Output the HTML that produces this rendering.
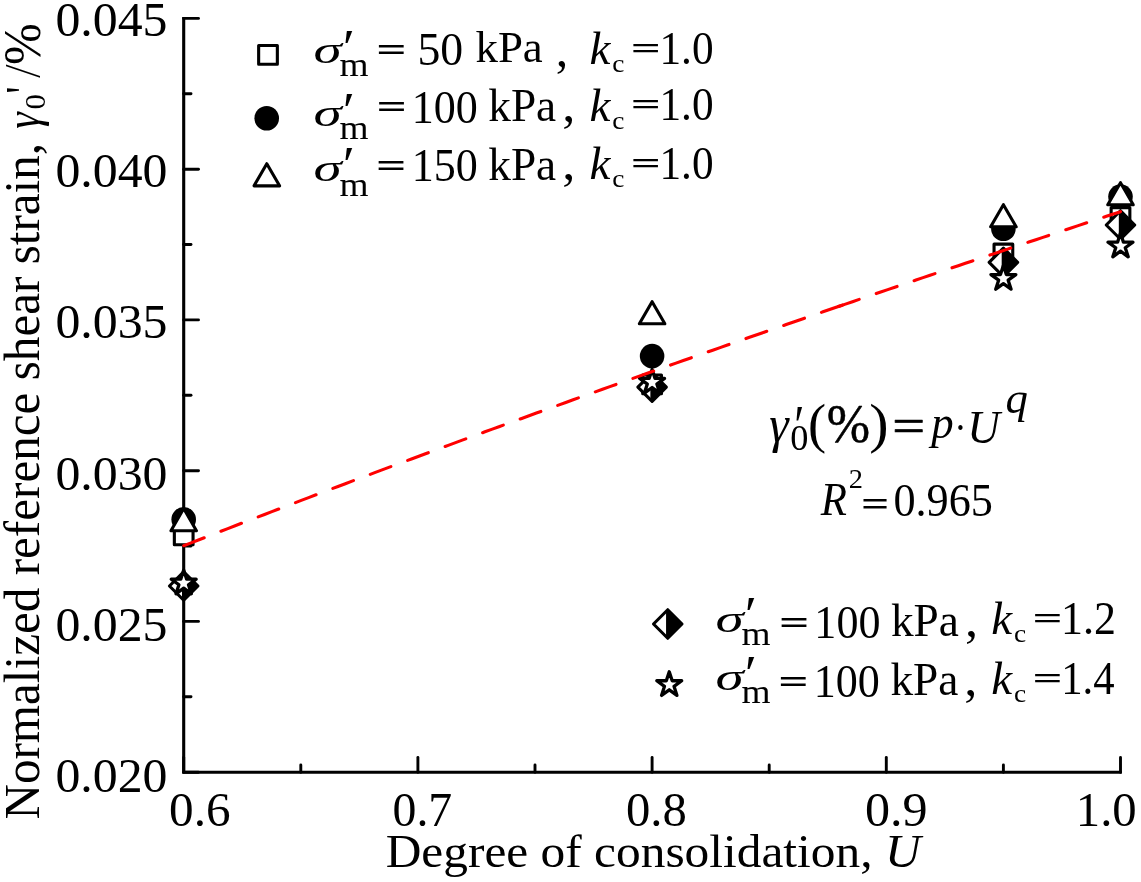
<!DOCTYPE html>
<html lang="en"><head><meta charset="utf-8"><title>Normalized reference shear strain vs degree of consolidation</title>
<style>
html,body{margin:0;padding:0;background:#fff;}
body{width:1141px;height:882px;overflow:hidden;}
svg{display:block;will-change:transform;}
text{font-family:"Liberation Serif",serif;fill:#000;}
.i{font-style:italic;}
.b{font-weight:bold;}
.ax{stroke:#000;stroke-width:3.1;fill:none;stroke-linecap:butt;}
.tk{stroke:#000;stroke-width:2.9;fill:none;stroke-linecap:round;}
.mk{stroke:#000;stroke-width:3.1;stroke-linejoin:round;}
</style></head><body>
<svg width="1141" height="882" viewBox="0 0 1141 882">
<rect x="0" y="0" width="1141" height="882" fill="#fff"/>
<g id="axes">
<path class="ax" d="M183.7 17 V772.2 H1121.8"/>
<path class="tk" d="M183.7 18.4 H198.5"/>
<path class="tk" d="M183.7 169.2 H198.5"/>
<path class="tk" d="M183.7 319.9 H198.5"/>
<path class="tk" d="M183.7 470.7 H198.5"/>
<path class="tk" d="M183.7 621.4 H198.5"/>
<path class="tk" d="M183.7 772.2 H198.5"/>
<path class="tk" d="M183.7 93.8 H191.0"/>
<path class="tk" d="M183.7 244.5 H191.0"/>
<path class="tk" d="M183.7 395.3 H191.0"/>
<path class="tk" d="M183.7 546.1 H191.0"/>
<path class="tk" d="M183.7 696.8 H191.0"/>
<path class="tk" d="M183.7 772.2 V757.5"/>
<path class="tk" d="M417.9 772.2 V757.5"/>
<path class="tk" d="M652.1 772.2 V757.5"/>
<path class="tk" d="M886.3 772.2 V757.5"/>
<path class="tk" d="M1120.5 772.2 V757.5"/>
<path class="tk" d="M300.8 772.2 V765.0"/>
<path class="tk" d="M535.0 772.2 V765.0"/>
<path class="tk" d="M769.2 772.2 V765.0"/>
<path class="tk" d="M1003.4 772.2 V765.0"/>
</g>
<g id="yticklabels">
<text transform="translate(55.44 36.04) scale(1.0257 1)" font-size="48.58">0.045</text>
<text transform="translate(55.44 187.24) scale(1.0257 1)" font-size="48.58">0.040</text>
<text transform="translate(55.44 338.44) scale(1.0257 1)" font-size="48.58">0.035</text>
<text transform="translate(55.44 489.64) scale(1.0257 1)" font-size="48.58">0.030</text>
<text transform="translate(55.44 640.84) scale(1.0257 1)" font-size="48.58">0.025</text>
<text transform="translate(55.44 792.04) scale(1.0257 1)" font-size="48.58">0.020</text>
</g>
<g id="xticklabels">
<text transform="translate(169.06 825.75) scale(1.0314 1.0000)" font-size="47.71">0.6</text>
<text transform="translate(392.51 825.75) scale(1.0017 1.0000)" font-size="47.71">0.7</text>
<text transform="translate(625.98 825.75) scale(1.0202 1.0000)" font-size="47.71">0.8</text>
<text transform="translate(864.93 825.75) scale(1.0502 1.0000)" font-size="47.71">0.9</text>
<text transform="translate(1075.79 825.75) scale(1.0217 1.0000)" font-size="47.71">1.0</text>
</g>
<g id="titles">
<text transform="translate(385.70 867.10) scale(1.0510 1.0000)" font-size="47.00" text-anchor="start">Degree of consolidation, <tspan class="i">U</tspan></text>
<text transform="translate(39.3 819.6) rotate(-90) scale(1 1.015)" font-size="49.15">Normalized reference shear strain,</text>
<g transform="rotate(-90)">
<text class="i" transform="translate(-128.65 38.74) scale(0.8665 1.0000)" font-size="48.29">γ</text>
<text transform="translate(-109.47 45.44) scale(1.0476 1.0000)" font-size="29.67">0</text>
<text transform="translate(-93.50 39.50) scale(0.7500 1.0000)" font-size="51.20">'</text>
<text class="i" transform="translate(-76.33 38.60) scale(0.6538 1.0000)" font-size="51.20">/</text>
<text transform="translate(-64.96 39.99) scale(0.9638 1.0000)" font-size="51.93">%</text>
</g>
</g>
<g id="data">
<rect class="mk" x="174.35" y="526.05" width="18.70" height="18.70" fill="#fff"/>
<rect class="mk" x="642.75" y="374.95" width="18.70" height="18.70" fill="#fff"/>
<rect class="mk" x="994.05" y="244.15" width="18.70" height="18.70" fill="#fff"/>
<rect class="mk" x="1111.15" y="207.65" width="18.70" height="18.70" fill="#fff"/>
<circle cx="183.70" cy="519.40" r="12.30" fill="#000"/>
<circle cx="652.10" cy="356.10" r="12.30" fill="#000"/>
<circle cx="1003.40" cy="228.80" r="12.30" fill="#000"/>
<circle cx="1120.50" cy="196.60" r="12.30" fill="#000"/>
<path class="mk" d="M183.70 508.60 L196.45 530.70 L170.95 530.70 Z" fill="#fff"/>
<path class="mk" d="M652.10 301.70 L664.85 323.80 L639.35 323.80 Z" fill="#fff"/>
<path class="mk" d="M1003.40 204.70 L1016.15 226.80 L990.65 226.80 Z" fill="#fff"/>
<path class="mk" d="M1120.50 182.70 L1133.25 204.80 L1107.75 204.80 Z" fill="#fff"/>
<path class="mk" d="M183.70 571.75 L197.95 586.00 L183.70 600.25 L169.45 586.00 Z" fill="#fff"/>
<path d="M182.00 573.45 L183.70 571.75 L197.95 586.00 L183.70 600.25 L182.00 598.55 Z" fill="#000"/>
<path class="mk" d="M652.10 372.85 L666.35 387.10 L652.10 401.35 L637.85 387.10 Z" fill="#fff"/>
<path d="M650.40 374.55 L652.10 372.85 L666.35 387.10 L652.10 401.35 L650.40 399.65 Z" fill="#000"/>
<path class="mk" d="M1003.40 248.05 L1017.65 262.30 L1003.40 276.55 L989.15 262.30 Z" fill="#fff"/>
<path d="M1001.70 249.75 L1003.40 248.05 L1017.65 262.30 L1003.40 276.55 L1001.70 274.85 Z" fill="#000"/>
<path class="mk" d="M1120.50 210.75 L1134.75 225.00 L1120.50 239.25 L1106.25 225.00 Z" fill="#fff"/>
<path d="M1118.80 212.45 L1120.50 210.75 L1134.75 225.00 L1120.50 239.25 L1118.80 237.55 Z" fill="#000"/>
<path class="mk" style="stroke-width:3.3" d="M183.70 570.10 L186.64 579.15 L196.16 579.15 L188.46 584.75 L191.40 593.80 L183.70 588.20 L176.00 593.80 L178.94 584.75 L171.24 579.15 L180.76 579.15 Z" fill="#fff"/>
<path class="mk" style="stroke-width:3.3" d="M652.10 369.40 L655.04 378.45 L664.56 378.45 L656.86 384.05 L659.80 393.10 L652.10 387.50 L644.40 393.10 L647.34 384.05 L639.64 378.45 L649.16 378.45 Z" fill="#fff"/>
<path class="mk" style="stroke-width:3.3" d="M1003.40 265.50 L1006.34 274.55 L1015.86 274.55 L1008.16 280.15 L1011.10 289.20 L1003.40 283.60 L995.70 289.20 L998.64 280.15 L990.94 274.55 L1000.46 274.55 Z" fill="#fff"/>
<path class="mk" style="stroke-width:3.3" d="M1120.50 233.10 L1123.44 242.15 L1132.96 242.15 L1125.26 247.75 L1128.20 256.80 L1120.50 251.20 L1112.80 256.80 L1115.74 247.75 L1108.04 242.15 L1117.56 242.15 Z" fill="#fff"/>
</g>
<g id="fit" fill="none" stroke="#ff0000" stroke-width="3.1" stroke-linecap="round">
<path d="M183.70 545.74 L191.05 542.87 L198.40 540.00 L205.74 537.14 L213.09 534.29 L220.44 531.44 L227.79 528.59 L235.13 525.75 L242.48 522.91 L249.83 520.08 L257.18 517.25 L264.53 514.43 L271.87 511.61 L279.22 508.80 L286.57 505.99 L293.92 503.19 L301.26 500.39 L308.61 497.60 L315.96 494.81 L323.31 492.02 L330.66 489.24 L338.00 486.46 L345.35 483.69 L352.70 480.92 L360.05 478.16 L367.39 475.40 L374.74 472.65 L382.09 469.90 L389.44 467.15 L396.79 464.41 L404.13 461.67 L411.48 458.94 L418.83 456.21 L426.18 453.48 L433.52 450.76 L440.87 448.04 L448.22 445.33 L455.57 442.62 L462.92 439.92 L470.26 437.21 L477.61 434.52 L484.96 431.82 L492.31 429.14 L499.65 426.45 L507.00 423.77 L514.35 421.09 L521.70 418.42 L529.05 415.75 L536.39 413.08 L543.74 410.42 L551.09 407.76 L558.44 405.10 L565.78 402.45 L573.13 399.81 L580.48 397.16 L587.83 394.52 L595.18 391.88 L602.52 389.25 L609.87 386.62 L617.22 384.00 L624.57 381.37 L631.91 378.75 L639.26 376.14 L646.61 373.53 L653.96 370.92 L661.31 368.31 L668.65 365.71 L676.00 363.11 L683.35 360.52 L690.70 357.93 L698.04 355.34 L705.39 352.75 L712.74 350.17 L720.09 347.59 L727.44 345.02 L734.78 342.45 L742.13 339.88 L749.48 337.31 L756.83 334.75 L764.17 332.19 L771.52 329.64 L778.87 327.09 L786.22 324.54 L793.57 321.99 L800.91 319.45 L808.26 316.91 L815.61 314.37 L822.96 311.84 L830.30 309.31 L837.65 306.78 L845.00 304.26" stroke-dasharray="22 17.95"/>
<path d="M838.40 306.52 L845.45 304.10 L852.51 301.68 L859.56 299.26 L866.61 296.85 L873.66 294.44 L880.71 292.03 L887.77 289.62 L894.82 287.22 L901.87 284.82 L908.92 282.42 L915.98 280.03 L923.03 277.63 L930.08 275.24 L937.14 272.85 L944.19 270.47 L951.24 268.09 L958.29 265.71 L965.35 263.33 L972.40 260.96 L979.45 258.59 L986.50 256.22 L993.56 253.85 L1000.61 251.49 L1007.66 249.12 L1014.71 246.76 L1021.76 244.41 L1028.82 242.05 L1035.87 239.70 L1042.92 237.35 L1049.98 235.01 L1057.03 232.66 L1064.08 230.32 L1071.13 227.98 L1078.18 225.64 L1085.24 223.31 L1092.29 220.98 L1099.34 218.65 L1106.39 216.32 L1113.45 214.00 L1120.50 211.67" stroke-dasharray="22 18"/>
</g>
<g id="legend-top">
<rect class="mk" x="258.65" y="45.55" width="18.70" height="18.70" fill="#fff"/>
<circle cx="266.70" cy="118.20" r="12.30" fill="#000"/>
<path class="mk" d="M266.80 163.75 L279.55 185.85 L254.05 185.85 Z" fill="#fff"/>
</g>
<g id="legend-top-text">
<text class="i" transform="translate(313.61 62.72) scale(1.5507 1.0000)" font-size="36.89">σ</text>
<text transform="translate(342.68 63.66) scale(1.0853 1.0000)" font-size="51.60">′</text>
<text transform="translate(339.52 75.50) scale(1.1373 1.0000)" font-size="32.83">m</text>
<text class="b" transform="translate(376.30 61.17) scale(1.5957 1.0000)" font-size="33.42">=</text>
<text transform="translate(417.45 64.88) scale(0.9959 1.0000)" font-size="45.96">50</text>
<text transform="translate(475.50 62.19) scale(0.9920 1.0000)" font-size="45.22">kPa</text>
<text transform="translate(555.64 66.02) scale(0.9896 1.0000)" font-size="50.45">,</text>
<text class="i" transform="translate(589.47 64.20) scale(1.0233 1.0000)" font-size="45.94">k</text>
<text transform="translate(612.24 72.30) scale(1.0700 1.0000)" font-size="25.60">c</text>
<text class="b" transform="translate(630.82 59.07) scale(1.6352 1.0000)" font-size="32.36">=</text>
<text transform="translate(659.42 63.96) scale(0.9162 1.0000)" font-size="47.27">1.0</text>
<text class="i" transform="translate(313.61 126.02) scale(1.5507 1.0000)" font-size="36.89">σ</text>
<text transform="translate(342.68 126.96) scale(1.0853 1.0000)" font-size="51.60">′</text>
<text transform="translate(339.52 138.80) scale(1.1373 1.0000)" font-size="32.83">m</text>
<text class="b" transform="translate(376.60 118.27) scale(1.5957 1.0000)" font-size="33.42">=</text>
<text transform="translate(411.66 122.68) scale(0.9590 1.0000)" font-size="45.96">100</text>
<text transform="translate(488.29 121.28) scale(0.9858 1.0000)" font-size="45.91">kPa</text>
<text transform="translate(562.26 120.62) scale(1.0403 1.0000)" font-size="50.45">,</text>
<text class="i" transform="translate(589.47 120.60) scale(1.0233 1.0000)" font-size="45.94">k</text>
<text transform="translate(612.24 128.70) scale(1.0700 1.0000)" font-size="25.60">c</text>
<text class="b" transform="translate(630.82 115.47) scale(1.6352 1.0000)" font-size="32.36">=</text>
<text transform="translate(659.42 120.36) scale(0.9162 1.0000)" font-size="47.27">1.0</text>
<text class="i" transform="translate(313.61 181.12) scale(1.5507 1.0000)" font-size="36.89">σ</text>
<text transform="translate(342.68 181.36) scale(1.0853 1.0000)" font-size="51.60">′</text>
<text transform="translate(339.52 196.40) scale(1.1373 1.0000)" font-size="32.83">m</text>
<text class="b" transform="translate(376.10 176.67) scale(1.5957 1.0000)" font-size="33.42">=</text>
<text transform="translate(411.66 181.28) scale(0.9590 1.0000)" font-size="45.96">150</text>
<text transform="translate(488.29 179.88) scale(0.9858 1.0000)" font-size="45.91">kPa</text>
<text transform="translate(562.26 179.22) scale(1.0403 1.0000)" font-size="50.45">,</text>
<text class="i" transform="translate(589.47 179.20) scale(1.0233 1.0000)" font-size="45.94">k</text>
<text transform="translate(612.24 187.30) scale(1.0700 1.0000)" font-size="25.60">c</text>
<text class="b" transform="translate(630.82 174.07) scale(1.6352 1.0000)" font-size="32.36">=</text>
<text transform="translate(659.42 178.96) scale(0.9162 1.0000)" font-size="47.27">1.0</text>
</g>
<g id="legend-bottom">
<path class="mk" d="M667.75 609.75 L682.00 624.00 L667.75 638.25 L653.50 624.00 Z" fill="#fff"/>
<path d="M666.05 611.45 L667.75 609.75 L682.00 624.00 L667.75 638.25 L666.05 636.55 Z" fill="#000"/>
<path class="mk" style="stroke-width:3.3" d="M669.25 671.70 L672.19 680.75 L681.71 680.75 L674.01 686.35 L676.95 695.40 L669.25 689.80 L661.55 695.40 L664.49 686.35 L656.79 680.75 L666.31 680.75 Z" fill="#fff"/>
</g>
<g id="legend-bottom-text">
<text class="i" transform="translate(715.61 632.02) scale(1.5507 1.0000)" font-size="36.89">σ</text>
<text transform="translate(744.67 631.46) scale(1.0853 1.0000)" font-size="51.60">′</text>
<text transform="translate(741.52 645.40) scale(1.1373 1.0000)" font-size="32.83">m</text>
<text class="b" transform="translate(779.00 634.37) scale(1.5957 1.0000)" font-size="33.42">=</text>
<text transform="translate(814.36 637.68) scale(0.9590 1.0000)" font-size="45.96">100</text>
<text transform="translate(890.99 636.28) scale(0.9858 1.0000)" font-size="45.91">kPa</text>
<text transform="translate(964.96 635.62) scale(1.0403 1.0000)" font-size="50.45">,</text>
<text class="i" transform="translate(991.17 634.20) scale(1.0233 1.0000)" font-size="45.94">k</text>
<text transform="translate(1013.94 642.30) scale(1.0700 1.0000)" font-size="25.60">c</text>
<text class="b" transform="translate(1032.52 629.07) scale(1.6352 1.0000)" font-size="32.36">=</text>
<text transform="translate(1061.07 633.96) scale(0.9289 1.0000)" font-size="47.27">1.2</text>
<text class="i" transform="translate(715.61 689.92) scale(1.5507 1.0000)" font-size="36.89">σ</text>
<text transform="translate(744.67 689.86) scale(1.0853 1.0000)" font-size="51.60">′</text>
<text transform="translate(741.52 703.10) scale(1.1373 1.0000)" font-size="32.83">m</text>
<text class="b" transform="translate(778.30 693.07) scale(1.5957 1.0000)" font-size="33.42">=</text>
<text transform="translate(813.76 696.68) scale(0.9590 1.0000)" font-size="45.96">100</text>
<text transform="translate(890.39 695.28) scale(0.9858 1.0000)" font-size="45.91">kPa</text>
<text transform="translate(964.36 694.62) scale(1.0403 1.0000)" font-size="50.45">,</text>
<text class="i" transform="translate(991.17 694.00) scale(1.0233 1.0000)" font-size="45.94">k</text>
<text transform="translate(1013.94 702.10) scale(1.0700 1.0000)" font-size="25.60">c</text>
<text class="b" transform="translate(1032.52 688.87) scale(1.6352 1.0000)" font-size="32.36">=</text>
<text transform="translate(1061.16 693.76) scale(0.9038 1.0000)" font-size="47.27">1.4</text>
</g>
<g id="formula">
<text class="i" transform="translate(769.23 442.23) scale(0.9148 1.0000)" font-size="53.82">γ</text>
<text transform="translate(794.33 444.86) scale(0.8000 1.0000)" font-size="58.00">′</text>
<text transform="translate(790.16 449.66) scale(1.0454 1.0000)" font-size="34.76">0</text>
<text transform="translate(808.00 441.96) scale(0.9970 1.0000)" font-size="54.56">(</text>
<text transform="translate(826.73 442.38) scale(0.9353 1.0000)" font-size="55.56" stroke="#000" stroke-width="0.52" stroke-linejoin="round">%</text>
<text transform="translate(869.19 441.96) scale(1.0626 1.0000)" font-size="54.56">)</text>
<text transform="translate(892.37 441.59) scale(1.2086 1.0000)" font-size="48.19" stroke="#000" stroke-width="0.72" stroke-linejoin="round">=</text>
<text class="i" transform="translate(931.20 437.98) scale(0.9783 1.0000)" font-size="45.80">p</text>
<text transform="translate(954.33 441.85) scale(0.8889 1.0000)" font-size="41.60">·</text>
<text class="i" transform="translate(967.37 443.08) scale(0.9866 1.0000)" font-size="45.84">U</text>
<text class="i" transform="translate(1005.50 413.19) scale(1.0194 1.0000)" font-size="43.95">q</text>
<text class="i" transform="translate(820.87 515.20) scale(0.9318 1.0000)" font-size="46.02">R</text>
<text transform="translate(848.81 487.80) scale(1.0797 1.0000)" font-size="26.34">2</text>
<text class="b" transform="translate(860.97 515.77) scale(1.3573 1.0000)" font-size="36.62">=</text>
<text transform="translate(893.42 516.48) scale(0.9627 1.0000)" font-size="45.96">0.965</text>
</g>
</svg>
</body></html>
